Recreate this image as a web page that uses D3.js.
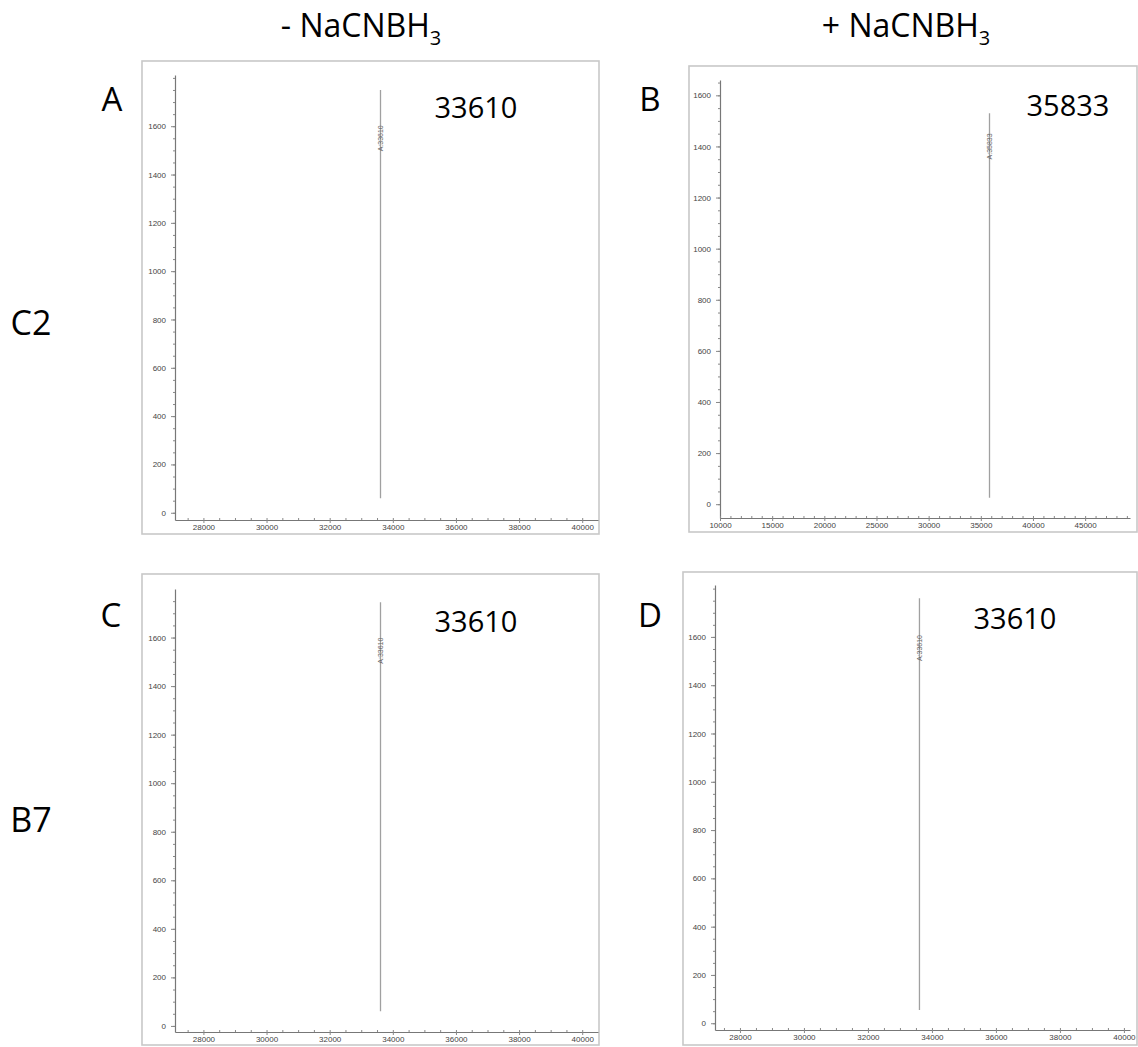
<!DOCTYPE html>
<html><head><meta charset="utf-8">
<script src="https://cdn.jsdelivr.net/npm/d3@7"></script>
<style>body{margin:0;background:#fff;} svg{display:block;}</style>
</head><body>
<svg id="c" width="1138" height="1047"></svg>
<script>
// ---- data ----
const panelLetters = ["A", "B", "C", "D"];
const peakMass = [33610, 35833, 33610, 33610];
const peakTop = [1750, 1530, 1745, 1760];
const peakBase = [60, 25, 60, 55];
const peakLabelValue = [1550, 1400, 1546, 1554];
const peakText = ["33610", "35833", "33610", "33610"];
const xDomains = [[27100, 40500], [10000, 49300], [27100, 40500], [27220, 40190]];
const yDomains = [[-30, 1812], [-54, 1660], [-25, 1800], [-28, 1815]];
const xTicksMajor = [
  [28000, 30000, 32000, 34000, 36000, 38000, 40000],
  [10000, 15000, 20000, 25000, 30000, 35000, 40000, 45000],
  [28000, 30000, 32000, 34000, 36000, 38000, 40000],
  [28000, 30000, 32000, 34000, 36000, 38000, 40000]
];
const xMinorStep = [500, 1000, 500, 500];
const yTicksMajor = [0, 200, 400, 600, 800, 1000, 1200, 1400, 1600];
const yMinorStep = 50;
const columnTitles = ["- NaCNBH", "+ NaCNBH"];
const rowLabels = ["C2", "B7"];

// ---- layout ----
const layout = [
  {frame: [142, 61, 457, 473], xr: [175, 598], yr: [520, 75], letter: [112, 111], val: [476, 118]},
  {frame: [689, 66, 448, 466], xr: [720, 1130], yr: [518, 80], letter: [650, 111], val: [1068, 116]},
  {frame: [142, 574, 457, 471], xr: [175, 598], yr: [1032, 589], letter: [111, 627], val: [476, 632]},
  {frame: [683, 572, 454, 473], xr: [715, 1130], yr: [1030, 585], letter: [650, 627], val: [1015, 629]}
];

const svg = d3.select("#c");
const font = "'Open Sans', 'Liberation Sans', sans-serif";

// column titles
const titleX = [361, 906];
columnTitles.forEach((t, i) => {
  const tx = svg.append("text").attr("x", titleX[i]).attr("y", 37)
    .attr("text-anchor", "middle").attr("font-family", font).attr("font-size", 32).attr("fill", "#000");
  tx.append("tspan").text(t);
  tx.append("tspan").text("3").attr("font-size", 20).attr("dy", 8);
});
// row labels
[[31, 335], [31, 832]].forEach((p, i) => {
  svg.append("text").attr("x", p[0]).attr("y", p[1]).attr("text-anchor", "middle")
    .attr("font-family", font).attr("font-size", 34).attr("fill", "#000").text(rowLabels[i]);
});

panelLetters.forEach((L, i) => {
  const lo = layout[i];
  const g = svg.append("g");
  // frame
  g.append("rect").attr("x", lo.frame[0]).attr("y", lo.frame[1]).attr("width", lo.frame[2]).attr("height", lo.frame[3])
    .attr("fill", "none").attr("stroke", "#c8c8c8").attr("stroke-width", 1.6);

  const x = d3.scaleLinear().domain(xDomains[i]).range(lo.xr);
  const y = d3.scaleLinear().domain(yDomains[i]).range(lo.yr);

  // y axis
  const yMinor = d3.range(0, yDomains[i][1], yMinorStep);
  const yAx = d3.axisLeft(y).tickValues(yTicksMajor).tickSize(4).tickSizeOuter(0).tickFormat(d3.format("d"));
  const ya = g.append("g").attr("transform", `translate(${lo.xr[0]},0)`).call(yAx);
  g.append("g").attr("transform", `translate(${lo.xr[0]},0)`)
    .call(d3.axisLeft(y).tickValues(yMinor).tickSize(2).tickFormat("").tickSizeOuter(0))
    .select(".domain").remove();

  // x axis
  const xMinor = d3.range(Math.ceil(xDomains[i][0] / xMinorStep[i]) * xMinorStep[i], xDomains[i][1], xMinorStep[i]);
  const xAx = d3.axisBottom(x).tickValues(xTicksMajor[i]).tickSize(3).tickSizeOuter(0).tickFormat(d3.format("d"));
  const xa = g.append("g").attr("transform", `translate(0,${lo.yr[0]})`).call(xAx);
  g.append("g").attr("transform", `translate(0,${lo.yr[0]})`)
    .call(d3.axisBottom(x).tickValues(xMinor).tickSize(-2).tickFormat("").tickSizeOuter(0))
    .select(".domain").remove();

  g.selectAll(".domain").attr("stroke", "#777").attr("stroke-width", 1.2);
  g.selectAll(".tick line").attr("stroke", "#888");
  g.selectAll(".tick text").attr("font-family", "'Liberation Sans', Arial, sans-serif").attr("font-size", 8).attr("fill", "#444");
  ya.selectAll(".tick text").attr("dx", -2);
  xa.selectAll(".tick text").attr("dy", 4);

  // peak
  const line = d3.line().x(d => x(d[0])).y(d => y(d[1]));
  g.append("path").datum([[peakMass[i], peakBase[i]], [peakMass[i], peakTop[i]]])
    .attr("d", line).attr("stroke", "#a0a0a0").attr("stroke-width", 1.3).attr("fill", "none");

  // rotated peak label
  const lx = x(peakMass[i]) + 2.5, ly = y(peakLabelValue[i]);
  g.append("text").attr("transform", `translate(${lx},${ly}) rotate(-90)`)
    .attr("text-anchor", "middle").attr("font-family", "'Liberation Sans', Arial, sans-serif")
    .attr("font-size", 7).attr("fill", "#666").text("A:" + peakMass[i]);

  // panel letter
  svg.append("text").attr("x", lo.letter[0]).attr("y", lo.letter[1]).attr("text-anchor", "middle")
    .attr("font-family", font).attr("font-size", 33).attr("fill", "#000").text(L);
  // value
  svg.append("text").attr("x", lo.val[0]).attr("y", lo.val[1]).attr("text-anchor", "middle")
    .attr("font-family", font).attr("font-size", 29).attr("fill", "#000").text(peakText[i]);
});
</script>
</body></html>
